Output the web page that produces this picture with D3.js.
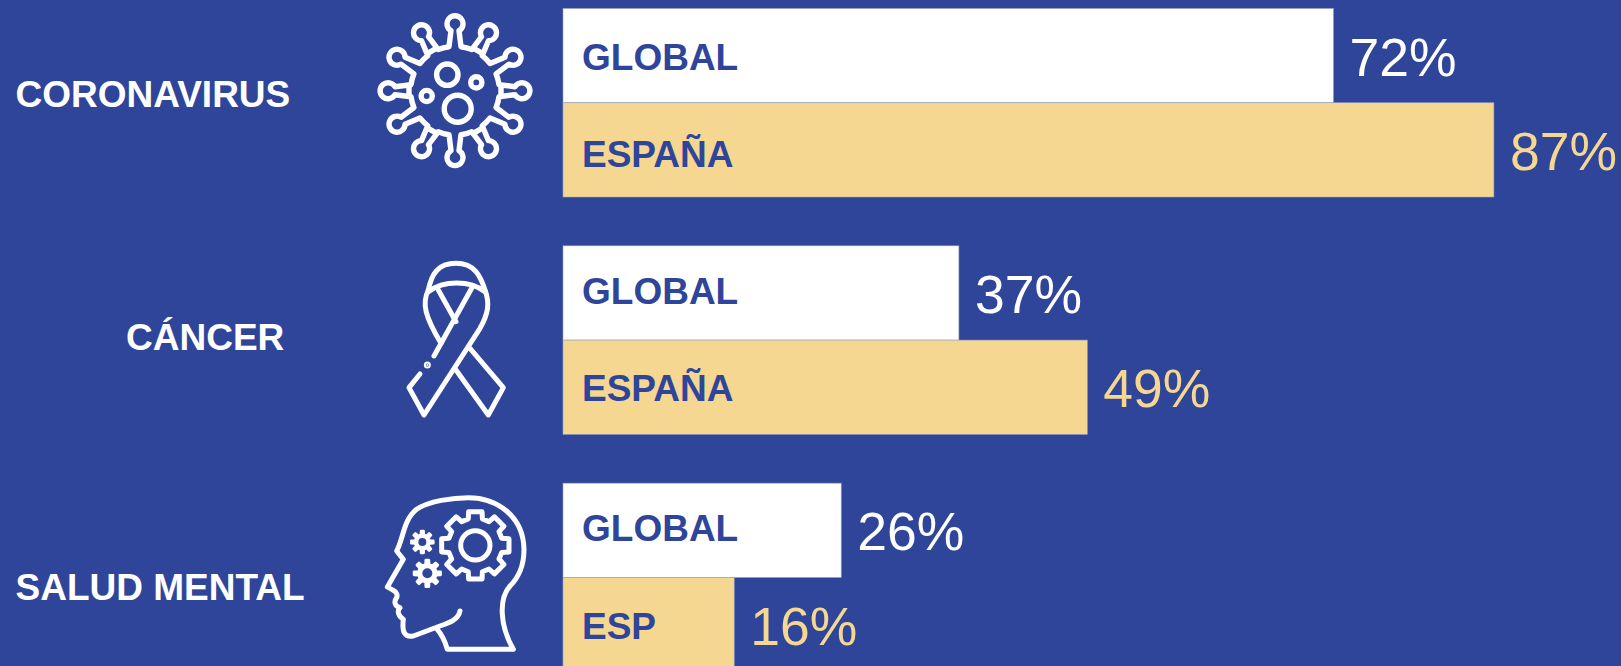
<!DOCTYPE html>
<html>
<head>
<meta charset="utf-8">
<script src="https://cdn.jsdelivr.net/npm/d3@7"></script>
<style>
  html, body { margin: 0; padding: 0; background: #2f459a; overflow: hidden; }
  svg { display: block; font-family: "Liberation Sans", Arial, sans-serif; }
</style>
</head>
<body>
<div id="chart"></div>
<script>
  const categories = ['CORONAVIRUS', 'CÁNCER', 'SALUD MENTAL'];
  const seriesNames = ['global', 'espana'];
  const globalValues = [72, 37, 26];
  const espanaValues = [87, 49, 16];
  const espanaLabels = ['ESPAÑA', 'ESPAÑA', 'ESP'];

  const width = 1621, height = 666;
  const BG = '#2f459a', TAN = '#f5d791', EDGE = '#9aa3c4';

  const svg = d3.select('#chart').append('svg')
    .attr('width', width)
    .attr('height', height);

  svg.append('rect').attr('width', width).attr('height', height).attr('fill', BG);

  // 10.7px per percentage point, bars start at 563
  const x = d3.scaleLinear().domain([0, 100]).range([563, 1633]);
  const yGroup = d3.scaleBand().domain(categories).range([8.5, 720.5]);
  const y = d3.scaleBand().domain(seriesNames).range([0, 188.5]);

  const rows = categories.flatMap((c, i) => [
    { cat: c, series: 'global', value: globalValues[i], label: 'GLOBAL', color: '#ffffff' },
    { cat: c, series: 'espana', value: espanaValues[i], label: espanaLabels[i], color: TAN }
  ]);

  // Bars
  svg.selectAll('.bar')
    .data(rows)
    .enter()
    .append('rect')
    .attr('class', 'bar')
    .attr('x', x(0))
    .attr('y', d => yGroup(d.cat) + y(d.series))
    .attr('width', d => x(d.value) - x(0))
    .attr('height', y.bandwidth())
    .attr('fill', d => d.color)
    .attr('stroke', EDGE)
    .attr('stroke-width', 0.6);

  // Series name inside the bar; the source text boxes sit slightly unevenly
  const labelShift = [14, 17, 11, 14, 11, 14];
  svg.selectAll('.bar-label')
    .data(rows)
    .enter()
    .append('text')
    .attr('class', 'bar-label')
    .attr('x', x(0) + 19)
    .attr('y', (d, i) => yGroup(d.cat) + y(d.series) + y.bandwidth() / 2 + labelShift[i])
    .style('font-size', '37px')
    .style('font-weight', '700')
    .style('fill', BG)
    .text(d => d.label);

  // Percent values right of the bar
  svg.selectAll('.bar-value')
    .data(rows)
    .enter()
    .append('text')
    .attr('class', 'bar-value')
    .attr('x', d => x(d.value) + 16)
    .attr('y', d => yGroup(d.cat) + y(d.series) + y.bandwidth() / 2 + 20)
    .style('font-size', '53.5px')
    .style('fill', d => d.color)
    .text(d => d.value + '%');

  // Category labels
  const catX = [15.5, 126, 15.5];
  const catY = [107, 350, 600];
  svg.selectAll('.cat')
    .data(categories)
    .enter()
    .append('text')
    .attr('class', 'cat')
    .attr('x', (d, i) => catX[i])
    .attr('y', (d, i) => catY[i])
    .style('font-size', '37px')
    .style('font-weight', '700')
    .style('fill', '#fff')
    .text(d => d);

  // Icons
  function iconGroup(tx, ty, k, sw) {
    return svg.append('g')
      .attr('transform', `translate(${tx},${ty}) scale(${k})`)
      .attr('fill', 'none')
      .attr('stroke', '#fff')
      .attr('stroke-width', sw)
      .attr('stroke-linecap', 'round')
      .attr('stroke-linejoin', 'round');
  }

  // Virus: body outline with 12 spikes
  const virus = iconGroup(455, 90.7, 1, 5.4);
  const spikeAngles = d3.range(12).map(i => i * Math.PI / 6);
  const pt = (a, r, off) => [
    Math.sin(a) * r + Math.cos(a) * off,
    -Math.cos(a) * r + Math.sin(a) * off
  ];
  let d = '';
  spikeAngles.forEach((a, i) => {
    const baseL = pt(a, 44, -6), neckL = pt(a, 60, -4), neckR = pt(a, 60, 4), baseR = pt(a, 44, 6);
    const next = spikeAngles[(i + 1) % 12];
    const nextL = pt(next, 44, -6);
    if (i === 0) d += `M${baseL}`;
    d += `L${neckL}A8,8 0 1 1 ${neckR}L${baseR}`;
    d += `A44,44 0 0 1 ${nextL}`;
  });
  virus.append('path').attr('d', d + 'Z');
  // closing lines across some spike bases
  [1, 3, 5, 7, 9, 11].forEach(i => {
    const a = spikeAngles[i];
    virus.append('path').attr('d', `M${pt(a, 46, -5)}L${pt(a, 46, 5)}`);
  });
  [[-7.7, -16, 10.7], [2.7, 18, 13.5], [21.3, -8.3, 5.6], [-28.3, 5.3, 5.6]].forEach(c => {
    virus.append('circle').attr('cx', c[0]).attr('cy', c[1]).attr('r', c[2]);
  });

  // Ribbon, drawn in zoom-crop units
  const ribbon = iconGroup(370, 240, 1 / 3, 15);
  [
    'M175,150C185,100 205,70 258,70C315,70 332,110 345,150C360,190 355,220 330,265L162,525L117,443L150,402',
    'M175,150C155,190 165,230 213,310',
    'M175,155C220,120 300,120 345,155',
    'M205,150L258,245',
    'M305,145L192,348',
    'M300,325L400,443L355,525L258,390'
  ].forEach(p => ribbon.append('path').attr('d', p));
  ribbon.append('circle').attr('cx', 172).attr('cy', 375).attr('r', 3).attr('fill', '#fff');

  // Head with gears, same units
  const head = iconGroup(370, 476, 1 / 3, 15);
  head.append('path').attr('d',
    'M270,405C265,430 240,440 210,450L130,480C105,485 95,470 100,430C85,420 80,405 90,395C72,390 72,375 80,365C85,350 75,345 52,333L100,250L80,225C100,190 100,130 140,100C175,75 250,65 295,65C380,65 460,120 462,220C462,280 440,310 420,330C385,370 390,450 430,520L232,520C225,495 215,475 200,458');

  function gear(cx, cy, inner, outer, hole, sw, solid) {
    const pts = [];
    d3.range(8).forEach(i => {
      const a = i * Math.PI / 4;
      const w = solid ? Math.PI / 16 : Math.PI / 12;
      const w2 = solid ? Math.PI / 28 : Math.PI / 16;
      pts.push([a - w, inner], [a - w2, outer], [a + w2, outer], [a + w, inner]);
    });
    const line = d3.lineRadial().angle(p => p[0]).radius(p => p[1]).curve(d3.curveLinearClosed);
    const g = head.append('g').attr('transform', `translate(${cx},${cy})`).attr('stroke-width', sw);
    g.append('path').attr('d', line(pts)).attr('fill', solid ? '#fff' : 'none');
    if (solid) g.append('circle').attr('r', hole).attr('fill', BG).attr('stroke', 'none');
    else g.append('circle').attr('r', hole);
  }
  gear(316, 208, 82, 103, 44, 15, false);
  gear(157, 198, 22, 33, 12, 8, true);
  gear(172, 292, 27, 40, 15, 8, true);
</script>
</body>
</html>
